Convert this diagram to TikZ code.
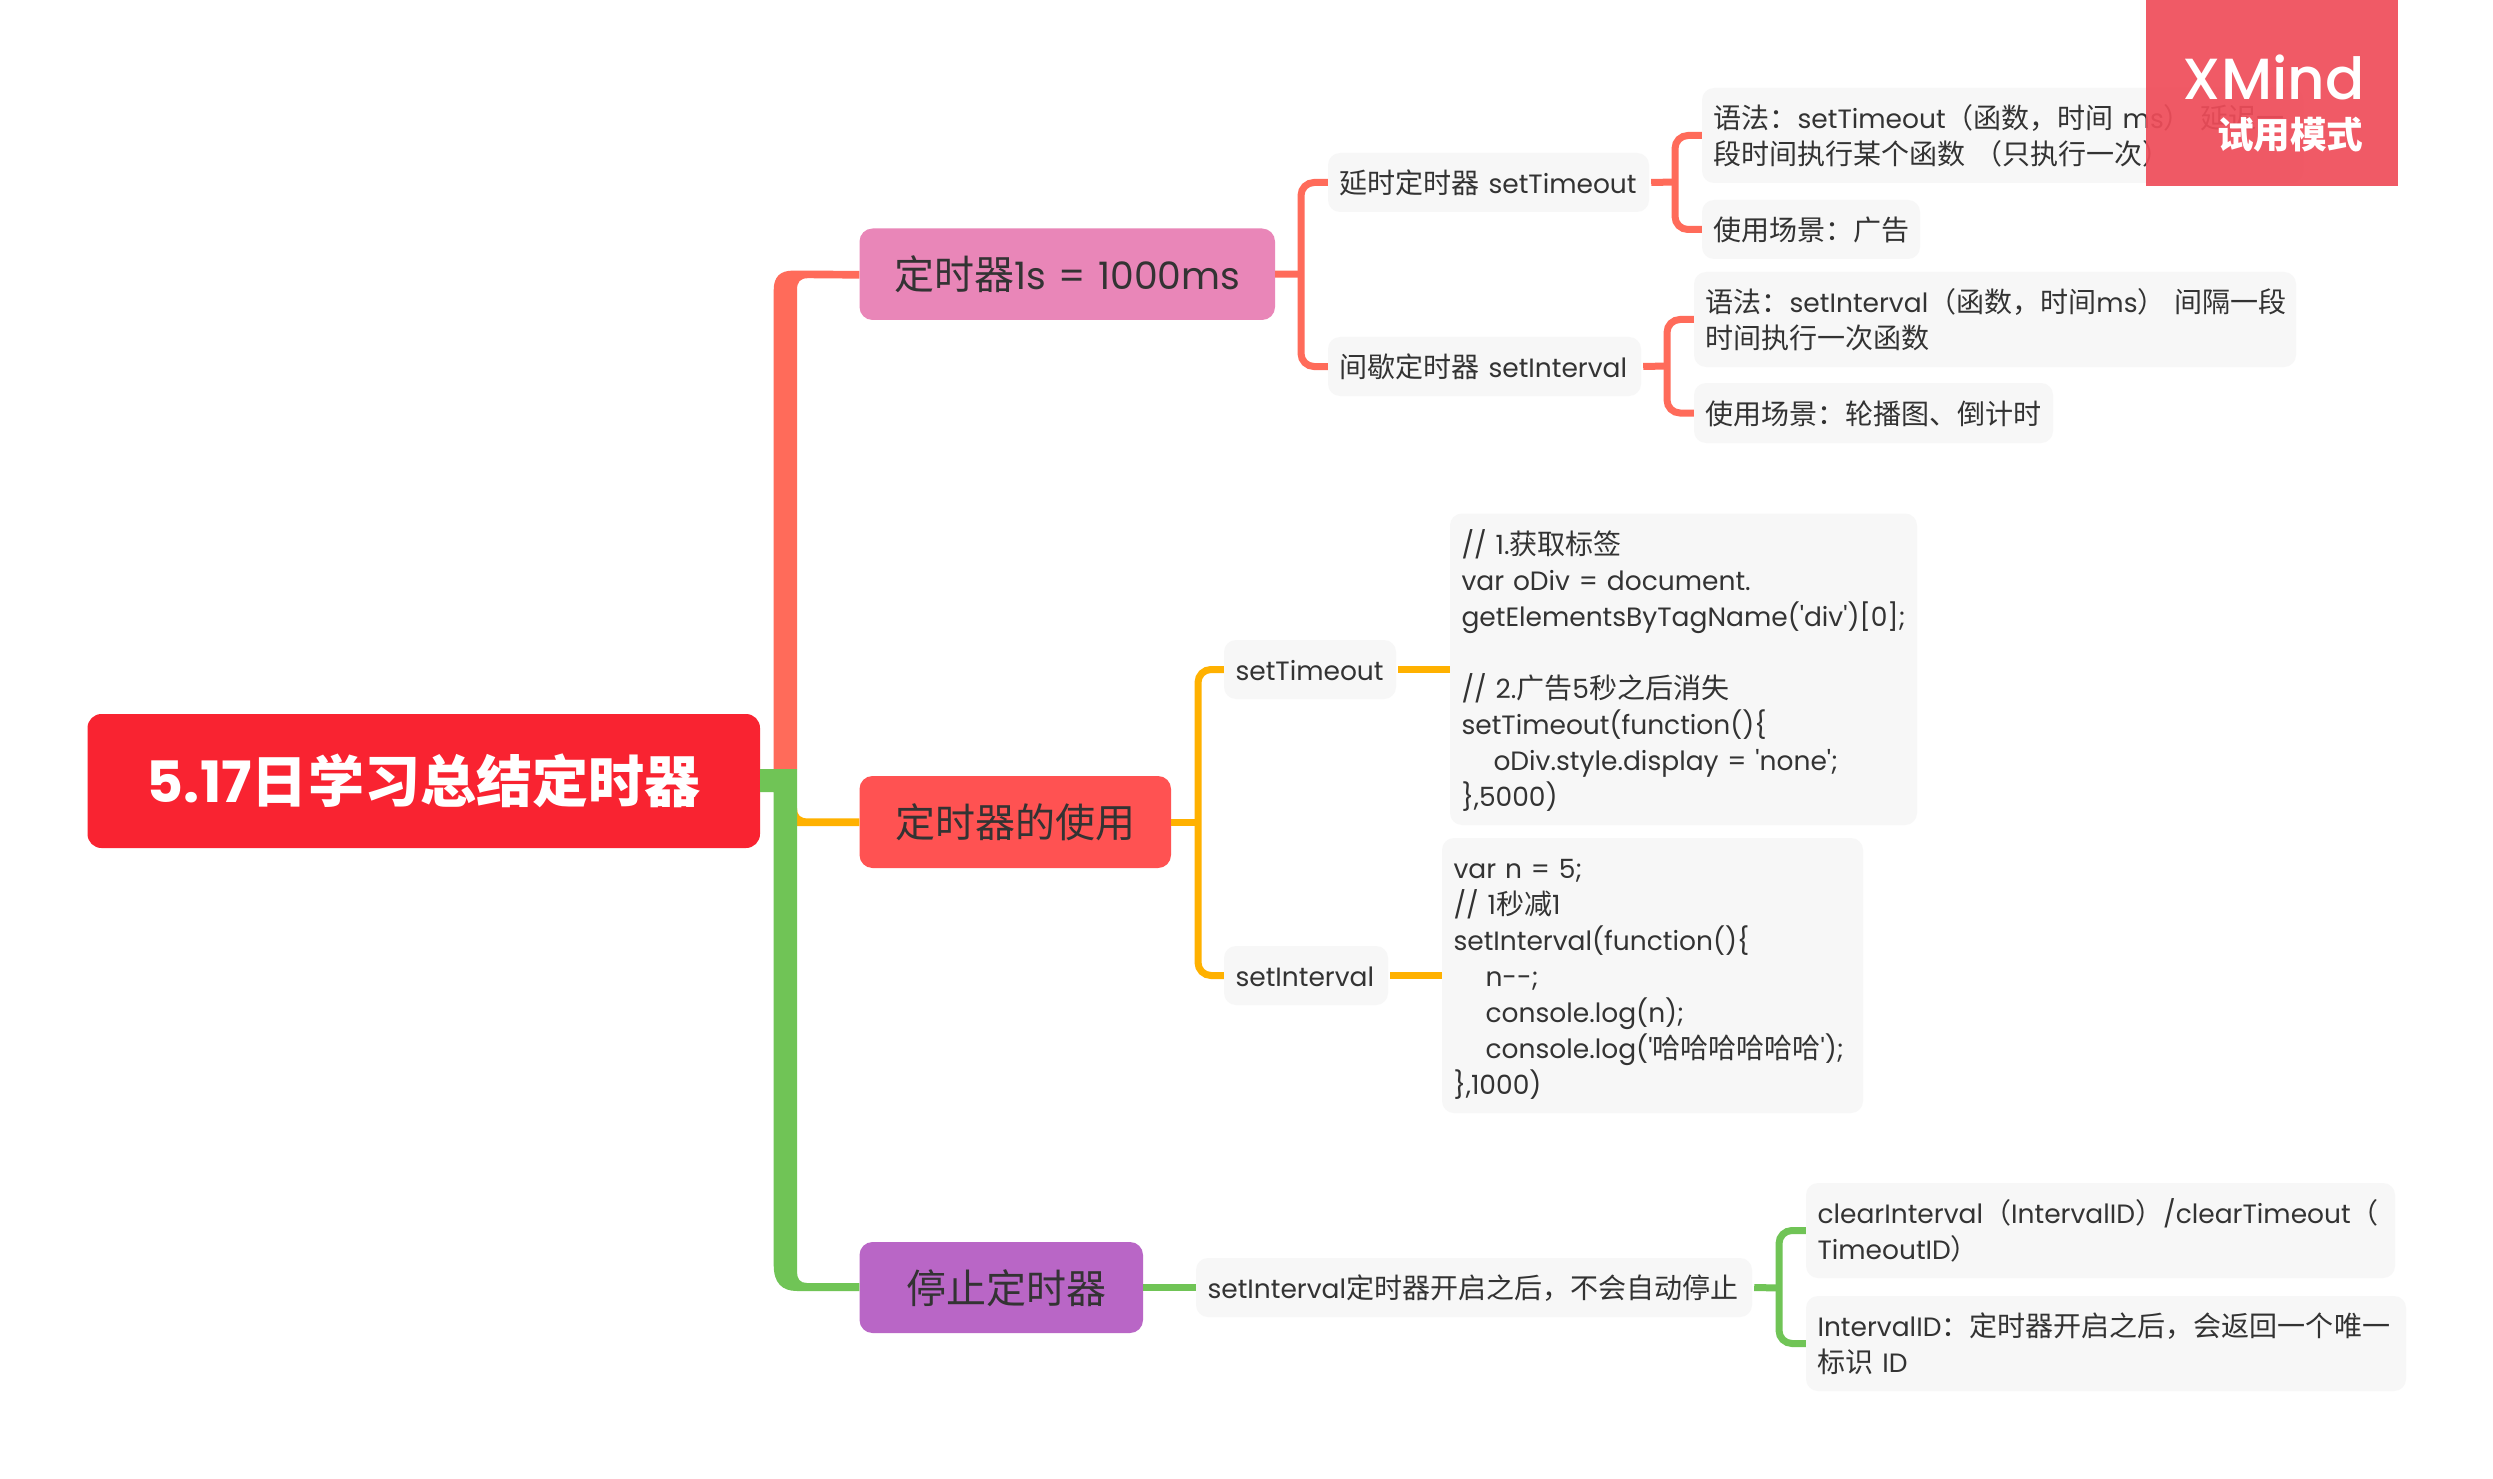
\documentclass[tikz,border=0pt]{standalone}
\usepackage{fontspec}
\usetikzlibrary{calc}
\setmainfont{Poppins}
\newfontfamily\latinfont{Poppins}
\newfontfamily\markfont{Poppins Medium}
\newfontfamily\zhfont[Scale=1.058]{Noto Sans CJK SC}
\newcommand\zh[1]{{\zhfont #1}}
\newcommand\qcolon{\char"FF1A\relax}
\newcommand\qlp{\char"FF08\relax}
\newcommand\qrp{\char"FF09\relax}
\newcommand\qcomma{\char"FF0C\relax}
\definecolor{rootred}{HTML}{F92331}
\definecolor{topicpink}{HTML}{E986B8}
\definecolor{topicred}{HTML}{FF5252}
\definecolor{topicpurple}{HTML}{B966C6}
\definecolor{linered}{HTML}{FF6B5A}
\definecolor{lineorange}{HTML}{FFB100}
\definecolor{linegreen}{HTML}{70C456}
\definecolor{leafbg}{HTML}{F7F7F7}
\definecolor{inktext}{HTML}{333333}
\definecolor{markred}{HTML}{EF4C59}
\newcommand\bxn[7]{%
  \pgfmathsetmacro\bw{#5-#3}\pgfmathsetmacro\bh{#6-#4}%
  \pgfmathsetmacro\bx{(#3+#5)/2}\pgfmathsetmacro\by{(#4+#6)/2}%
  \pgfmathsetmacro\tw{\bw-23}%
  \node[#1,minimum width=\bw pt,minimum height=\bh pt,text width=\tw pt,inner xsep=11.5pt,inner ysep=0pt] (#2) at (\bx,\by) {#7};}
\tikzset{
  leafbox/.style={rectangle,rounded corners=12pt,fill=leafbg,text=inktext,align=left,font=\fontsize{26.5}{36}\selectfont\latinfont,
    execute at begin node={\rule{0pt}{27pt}},execute at end node={\rule[-5pt]{0pt}{5pt}}},
  topic/.style={rectangle,rounded corners=13pt,text=inktext,align=center,font=\fontsize{37.8}{44}\selectfont\latinfont,
    execute at begin node={\rule{0pt}{38pt}},execute at end node={\rule[-7pt]{0pt}{7pt}}},
  rootbox/.style={rectangle,rounded corners=14pt,fill=rootred,text=white,align=center,font=\fontsize{57}{60}\selectfont\bfseries},
  conn/.style={line width=7pt,rounded corners=13pt},
}
\begin{document}
\begin{tikzpicture}[x=1pt,y=-1pt]
\path[use as bounding box,fill=white] (0,0) rectangle (2493,1479);
% nodes
\bxn{rootbox}{root}{87.5}{714}{760}{848}{5.17{\fontsize{53}{60}\selectfont\zhfont\bfseries 日学习总结定时器}}
\bxn{topic,fill=topicpink}{n1}{859.5}{228.5}{1275}{320}{\zh{定时器}1s = 1000ms}
\bxn{topic,fill=topicred}{n2}{859.5}{776}{1171}{868}{\zh{定时器的使用}}
\bxn{topic,fill=topicpurple}{n3}{859.5}{1242}{1143}{1333}{\hspace*{11pt}\zh{停止定时器}}
\bxn{leafbox}{l1}{1328}{153}{1649}{212}{\mbox{\zh{延时定时器} setTimeout}}
\bxn{leafbox}{l2}{1328}{337}{1641}{396}{\mbox{\zh{间歇定时器} setInterval}}
\bxn{leafbox}{a1}{1702}{88}{2303}{183}{\mbox{\zh{语法\qcolon}setTimeout\zh{\qlp 函数\qcomma 时间} ms\zh{\qrp\ 延迟一}}\\\mbox{\zh{段时间执行某个函数 \qlp 只执行一次\qrp}}}
\bxn{leafbox}{a2}{1702}{200}{1920}{259}{\mbox{\zh{使用场景\qcolon 广告}}}
\bxn{leafbox}{b1}{1694}{272}{2296}{367}{\mbox{\zh{语法\qcolon}setInterval\zh{\qlp 函数\qcomma 时间}ms\zh{\qrp\ 间隔一段}}\\\mbox{\zh{时间执行一次函数}}}
\bxn{leafbox}{b2}{1694}{383}{2053}{443}{\mbox{\zh{使用场景\qcolon 轮播图、倒计时}}}
\bxn{leafbox}{s1}{1224}{640}{1396}{699}{setTimeout}
\bxn{leafbox}{s2}{1224}{946}{1388}{1005}{setInterval}
\bxn{leafbox}{c1}{1450}{513.5}{1917}{825}{// 1.\zh{获取标签}\\var oDiv = document.\\\mbox{getElementsByTagName('div')[0];}\\\mbox{}\\// 2.\zh{广告}5\zh{秒之后消失}\\setTimeout(function()\{\\\hspace*{32pt}oDiv.style.display = 'none';\\\},5000)}
\bxn{leafbox}{c2}{1442}{838}{1863}{1113}{var n = 5;\\// 1\zh{秒减}1\\setInterval(function()\{\\\hspace*{32pt}n--;\\\hspace*{32pt}console.log(n);\\\mbox{\hspace*{32pt}console.log('\zh{哈哈哈哈哈哈}');}\\\},1000)}
\bxn{leafbox}{t1}{1196}{1258}{1752}{1317}{\mbox{setInterval\zh{定时器开启之后\qcomma 不会自动停止}}}
\bxn{leafbox}{d1}{1806}{1183}{2395}{1278}{\mbox{clearInterval\zh{\qlp}IntervalID\zh{\qrp}/clearTimeout\zh{\qlp}}\\TimeoutID\zh{\qrp}}
\bxn{leafbox}{d2}{1806}{1296}{2406}{1391}{\mbox{IntervalID\zh{\qcolon 定时器开启之后\qcomma 会返回一个唯一}}\\\zh{标识} ID}
% main branches
\fill[linered] ($(n1.west)+(0,-3.4)$) -- (793,270.6) .. controls (780,270.6) and (773.7,277) .. (773.7,290) -- (773.7,769) -- (797,769) -- (797,290) .. controls (797,282) and (800,278.2) .. (808,278.2) -- ($(n1.west)+(0,4.4)$) -- cycle;
\fill[lineorange] ($(n2.west)+(0,-3.6)$) -- (808,818.4) .. controls (800,818.4) and (797,815) .. (797,808) -- (790,808) -- (790,826) -- ($(n2.west)+(0,4)$) -- cycle;
\fill[linegreen] ($(n3.west)+(0,-4.5)$) -- (807,1283) .. controls (800,1283) and (797,1279) .. (797,1272) -- (797,769) -- (root.east |- 0,769) -- (root.east |- 0,792) -- (773.7,792) -- (773.7,1265) .. controls (773.7,1283) and (782,1291) .. (797,1291) -- ($(n3.west)+(0,3.5)$) -- cycle;
% brackets
\coordinate (j1) at (1301,274);
\coordinate (ja) at (1675,182);
\coordinate (jb) at (1667,366);
\coordinate (j2) at (1198,822);
\coordinate (j3) at (1779,1288);
\draw[conn,linered] (l1.west) -| (j1) |- (l2.west);
\draw[conn,linered] (n1.east) -- (j1);
\draw[conn,linered] (a1.west) -| (ja) |- (a2.west);
\draw[conn,linered] ($(l1.east)+(2,0)$) -- (ja);
\draw[conn,linered] (b1.west) -| (jb) |- (b2.west);
\draw[conn,linered] ($(l2.east)+(2,0)$) -- (jb);
\draw[conn,lineorange] (s1.west) -| (j2) |- (s2.west);
\draw[conn,lineorange] (n2.east) -- (j2);
\draw[conn,lineorange] ($(s1.east)+(2,0)$) -- (c1.west |- s1.east);
\draw[conn,lineorange] ($(s2.east)+(2,0)$) -- (c2.west |- s2.east);
\draw[conn,linegreen] (n3.east) -- (t1.west);
\draw[conn,linegreen] (d1.west) -| (j3) |- (d2.west);
\draw[conn,linegreen] ($(t1.east)+(2,0)$) -- (j3);
% watermark
\node[rectangle,fill=markred,fill opacity=0.92,minimum width=252pt,minimum height=186pt,inner sep=0pt] (mark) at (2272,93) {};
\node[text=white,font=\fontsize{58}{60}\selectfont\markfont,anchor=east] (marka) at (2368,77) {XMind};
\node[text=white,font=\fontsize{34.6}{36}\selectfont\zhfont\bfseries,anchor=east] (markb) at (2367,135) {试用模式};
\end{tikzpicture}
\end{document}
